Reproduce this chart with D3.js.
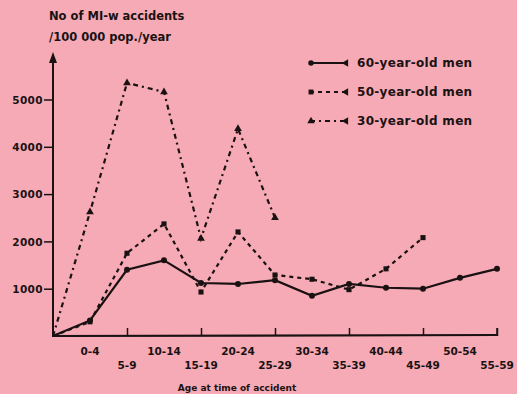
<!DOCTYPE html>
<html><head><meta charset="utf-8">
<script src="https://cdn.jsdelivr.net/npm/d3@7"></script>
<style>
html,body{margin:0;padding:0;background:#f6aab6;}
svg{display:block;}
text{font-family:"DejaVu Sans",sans-serif;font-weight:bold;fill:#1a1212;}
</style></head><body>
<script>
const categories = ["0-4","5-9","10-14","15-19","20-24","25-29","30-34","35-39","40-44","45-49","50-54","55-59"];
const men60 = [330,1400,1600,1120,1100,1180,850,1100,1020,1000,1230,1420];
const men50 = [300,1750,2370,930,2200,1290,1200,980,1420,2080,null,null];
const men30 = [2620,5350,5160,2060,4380,2500,null,null,null,null,null,null];
const yTicks = [1000,2000,3000,4000,5000];
const seriesNames = ["60-year-old men","50-year-old men","30-year-old men"];

const W=517,H=394;
const svg=d3.select("body").append("svg").attr("width",W).attr("height",H);
const ink="#1a1212";

// x: index -1 (origin) .. 11
const x=d3.scaleLinear().domain([-1,11]).range([53,497]);
const y=d3.scaleLinear().domain([0,1000]).range([336,288.7]);

// axes
const yAxis=d3.axisLeft(y).tickValues(yTicks).tickSize(9).tickFormat(d3.format("d"));
const gy=svg.append("g").attr("transform","translate(53,0)").call(yAxis);
gy.select(".domain").remove();
gy.selectAll("line").attr("stroke",ink).attr("stroke-width",1.5);
gy.selectAll("text").attr("font-size",10.5).attr("letter-spacing",0.4).attr("x",-10).attr("dy","0.35em");
svg.append("line").attr("x1",53).attr("x2",53).attr("y1",60).attr("y2",337).attr("stroke",ink).attr("stroke-width",2);
svg.append("path").attr("d","M53,52 L49,63 L57,63 Z").attr("fill",ink);

const xAxis=d3.axisBottom(x).tickValues(d3.range(1,12,2)).tickSize(-8).tickFormat("");
const gx=svg.append("g").attr("transform","translate(0,336)").call(xAxis);
gx.select(".domain").remove();
gx.selectAll("line").attr("stroke",ink).attr("stroke-width",1.5);
svg.append("line").attr("x1",52).attr("x2",498).attr("y1",336).attr("y2",335).attr("stroke",ink).attr("stroke-width",2.2);
svg.append("line").attr("x1",497).attr("x2",497).attr("y1",335).attr("y2",328).attr("stroke",ink).attr("stroke-width",1.5);

svg.append("g").selectAll("text").data(categories).join("text")
  .attr("x",(d,i)=>x(i)).attr("y",(d,i)=>i%2===0?355:369)
  .attr("text-anchor","middle").attr("font-size",10.5).text(d=>d);

svg.append("text").attr("x",237).attr("y",391).attr("text-anchor","middle").attr("font-size",9).text("Age at time of accident");
svg.append("text").attr("x",49).attr("y",20).attr("font-size",11.5).text("No of MI-w accidents");
svg.append("text").attr("x",49).attr("y",41).attr("font-size",11.5).text("/100 000 pop./year");

// series
function pts(arr){const p=[{i:-1,v:0}];arr.forEach((v,i)=>{if(v!=null)p.push({i,v});});return p;}
const line=d3.line().x(d=>x(d.i)).y(d=>y(d.v));
const styles=[
  {data:men60,dash:null,w:2.2,marker:"circle"},
  {data:men50,dash:"4,4",w:2.2,marker:"square"},
  {data:men30,dash:"5,4,2,4",w:2.2,marker:"triangle"}
];
const sym={circle:d3.symbolCircle,square:d3.symbolSquare,triangle:d3.symbolTriangle};
styles.forEach(s=>{
  const p=pts(s.data);
  svg.append("path").datum(p).attr("d",line).attr("fill","none").attr("stroke",ink)
    .attr("stroke-width",s.w).attr("stroke-dasharray",s.dash);
  svg.append("g").selectAll("path").data(p.slice(1)).join("path")
    .attr("transform",d=>`translate(${x(d.i)},${y(d.v)})`)
    .attr("d",d3.symbol().type(sym[s.marker]).size(s.marker==="circle"?28:26)).attr("fill",ink);
});

// legend
const lg=svg.append("g");
const ly=[63,92,121];
styles.forEach((s,k)=>{
  lg.append("line").attr("x1",310).attr("x2",347).attr("y1",ly[k]).attr("y2",ly[k])
    .attr("stroke",ink).attr("stroke-width",2).attr("stroke-dasharray",s.dash);
  lg.append("path").attr("transform",`translate(311,${ly[k]})`).attr("d",d3.symbol().type(sym[s.marker]).size(24)).attr("fill",ink);
  lg.append("path").attr("transform",`translate(346,${ly[k]}) rotate(-90)`).attr("d",d3.symbol().type(d3.symbolTriangle).size(24)).attr("fill",ink);
  lg.append("text").attr("x",357).attr("y",ly[k]).attr("dy","0.35em").attr("font-size",12).attr("letter-spacing",0.3).text(seriesNames[k]);
});
</script>
</body></html>
